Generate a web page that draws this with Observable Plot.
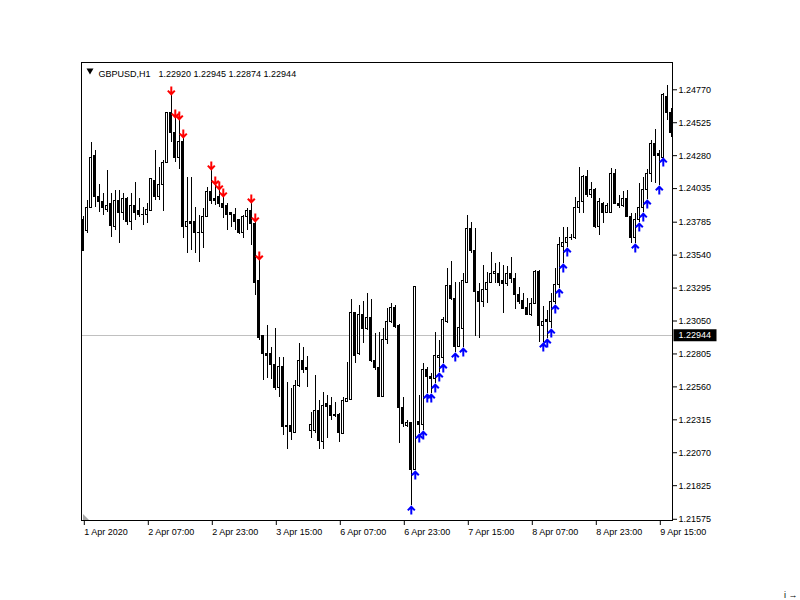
<!DOCTYPE html>
<html>
<head>
<meta charset="utf-8">
<script src="https://cdn.jsdelivr.net/npm/d3@7"></script>
<script src="https://cdn.jsdelivr.net/npm/@observablehq/plot@0.6"></script>
<style>
  html, body { margin: 0; padding: 0; background: #fff; }
  #chart { width: 800px; height: 600px; }
  #chart svg rect, #chart svg line { shape-rendering: crispEdges; }
</style>
</head>
<body>
<div id="chart"></div>
<script>
// ---- Data (GBPUSD H1, 1 Apr 15:00 .. 9 Apr 2020) ----
const opens = [
1.23798,1.23716,1.23887,1.24274,1.23976,1.23932,1.23879,1.23917,1.23753,1.23939,
1.23857,1.23954,1.23790,1.23902,1.23865,1.23842,1.23842,1.23872,1.24095,1.23969,
1.24065,1.24229,1.24594,1.24452,1.24266,1.24378,1.23746,1.23783,1.23783,1.23708,
1.23701,1.23820,1.24013,1.23954,1.23976,1.23924,1.23909,1.23850,1.23842,1.23798,
1.23701,1.23820,1.23865,1.23768,1.23351,1.22942,1.22808,1.22801,1.22726,1.22555,
1.22711,1.22272,1.22272,1.22220,1.22570,1.22749,1.22697,1.22235,1.22235,1.22384,
1.22153,1.22429,1.22421,1.22354,1.22354,1.22213,1.22451,1.22466,1.23106,1.22801,
1.23098,1.22994,1.23069,1.22749,1.22697,1.22488,1.22912,1.23039,1.23150,1.23016,
1.22406,1.22272,1.22295,1.21945,1.22302,1.22280,1.22682,1.22630,1.22622,1.22778,
1.22778,1.23039,1.23314,1.23210,1.22860,1.22994,1.23336,1.23738,1.23574,1.23269,
1.23195,1.23284,1.23336,1.23403,1.23403,1.23344,1.23329,1.23403,1.23366,1.23247,
1.23202,1.23150,1.23091,1.23180,1.23411,1.23016,1.23054,1.23039,1.23188,1.23321,
1.23604,1.23627,1.23664,1.23671,1.23894,1.23932,1.24118,1.23984,1.24028,1.23746,
1.23924,1.23857,1.23857,1.24147,1.23924,1.23909,1.23954,1.23827,1.23664,1.23798,
1.23887,1.24021,1.24147,1.24370,1.24296,1.24266,1.24713,1.24594];
const highs = [
1.23827,1.23946,1.24378,1.24318,1.24065,1.23998,1.24170,1.23998,1.24021,1.24021,
1.23998,1.23969,1.23998,1.24080,1.23961,1.23894,1.23924,1.24110,1.24318,1.24192,
1.24244,1.24594,1.24728,1.24557,1.24542,1.24408,1.24118,1.24118,1.23894,1.23835,
1.23887,1.24043,1.24170,1.24058,1.24021,1.23969,1.23924,1.23857,1.23887,1.23798,
1.23835,1.23887,1.23924,1.23783,1.23500,1.22942,1.23016,1.22853,1.22994,1.22778,
1.22778,1.22592,1.22548,1.22607,1.22882,1.22853,1.22786,1.22369,1.22644,1.22458,
1.22518,1.22496,1.22481,1.22444,1.22362,1.22481,1.22741,1.23210,1.23113,1.23165,
1.23195,1.23254,1.23210,1.22957,1.22964,1.22994,1.23143,1.23180,1.23165,1.23024,
1.22481,1.22310,1.22295,1.22510,1.22496,1.22734,1.22704,1.22659,1.22964,1.22905,
1.23076,1.23440,1.23493,1.23336,1.23336,1.23403,1.23835,1.23783,1.23738,1.23329,
1.23463,1.23411,1.23560,1.23478,1.23485,1.23463,1.23455,1.23522,1.23403,1.23299,
1.23254,1.23217,1.23217,1.23426,1.23426,1.23158,1.23128,1.23254,1.23440,1.23671,
1.23746,1.23746,1.23693,1.23969,1.24192,1.24132,1.24170,1.24080,1.24036,1.23961,
1.23932,1.23924,1.24185,1.24177,1.23984,1.24013,1.24021,1.23850,1.23850,1.24073,
1.24118,1.24177,1.24393,1.24475,1.24318,1.24743,1.24802,1.24631];
const lows = [
1.23567,1.23701,1.23887,1.23894,1.23857,1.23835,1.23857,1.23671,1.23723,1.23627,
1.23798,1.23760,1.23723,1.23798,1.23820,1.23760,1.23775,1.23865,1.23946,1.23946,
1.23865,1.24222,1.24378,1.24229,1.24177,1.23664,1.23552,1.23574,1.23552,1.23485,
1.23589,1.23820,1.23917,1.23909,1.23894,1.23813,1.23723,1.23746,1.23723,1.23693,
1.23664,1.23723,1.23612,1.23240,1.22905,1.22607,1.22622,1.22615,1.22533,1.22481,
1.22198,1.22094,1.22161,1.22213,1.22555,1.22659,1.22555,1.22176,1.22213,1.22094,
1.22094,1.22176,1.22310,1.22332,1.22146,1.22213,1.22444,1.22458,1.22734,1.22793,
1.22882,1.22979,1.22741,1.22682,1.22481,1.22481,1.22875,1.23031,1.22994,1.22138,
1.22258,1.22258,1.21677,1.21938,1.22213,1.22235,1.22511,1.22511,1.22585,1.22667,
1.22734,1.23031,1.23202,1.22816,1.22853,1.22853,1.23329,1.23552,1.22935,1.22920,
1.23150,1.23180,1.23329,1.23329,1.23307,1.23106,1.23307,1.23329,1.23135,1.23173,
1.23135,1.23091,1.23083,1.23180,1.22890,1.22890,1.22920,1.22994,1.23173,1.23292,
1.23478,1.23597,1.23649,1.23656,1.23850,1.23850,1.23969,1.23961,1.23738,1.23686,
1.23775,1.23850,1.23850,1.23924,1.23887,1.23894,1.23820,1.23627,1.23627,1.23783,
1.23857,1.23954,1.24080,1.24073,1.24058,1.24266,1.24542,1.24415];
const closes = [
1.23574,1.23894,1.24266,1.23969,1.23932,1.23887,1.23909,1.23760,1.23946,1.23857,
1.23954,1.23790,1.23902,1.23857,1.23835,1.23835,1.23879,1.24103,1.23969,1.24065,
1.24229,1.24594,1.24452,1.24266,1.24385,1.23746,1.23783,1.23775,1.23701,1.23701,
1.23827,1.24006,1.23946,1.23939,1.23924,1.23894,1.23842,1.23842,1.23790,1.23701,
1.23820,1.23865,1.23768,1.23336,1.22927,1.22801,1.22793,1.22726,1.22555,1.22711,
1.22258,1.22258,1.22228,1.22570,1.22749,1.22682,1.22689,1.22280,1.22384,1.22161,
1.22421,1.22414,1.22347,1.22347,1.22220,1.22458,1.22473,1.23113,1.22793,1.23098,
1.22994,1.23069,1.22749,1.22697,1.22488,1.22912,1.23039,1.23150,1.23009,1.22406,
1.22287,1.22295,1.21945,1.23302,1.22280,1.22682,1.22630,1.22622,1.22786,1.22793,
1.23054,1.23314,1.23210,1.22860,1.23001,1.23344,1.23738,1.23574,1.23269,1.23195,
1.23284,1.23336,1.23403,1.23411,1.23336,1.23329,1.23403,1.23366,1.23247,1.23195,
1.23143,1.23091,1.23180,1.23411,1.23016,1.23046,1.23039,1.23195,1.23321,1.23612,
1.23627,1.23664,1.23671,1.23894,1.23932,1.24118,1.23984,1.24028,1.23746,1.23932,
1.23857,1.23902,1.24147,1.23924,1.23902,1.23954,1.23820,1.23664,1.23798,1.23887,
1.24021,1.24147,1.24370,1.24281,1.24274,1.24728,1.24594,1.24445];

// signal arrows (bar indices)
const sellIdx = [22,23,24,25,32,33,34,35,42,43,44];
const buyIdx = [82,83,84,85,86,87,88,89,90,93,95,115,116,117,118,119,120,121,138,139,140,141,144,145];

// axes
const priceTicks = [1.21575,1.21825,1.22070,1.22315,1.22560,1.22805,1.23050,1.23295,1.23540,1.23785,1.24035,1.24280,1.24525,1.24770];
const timeTickIdx = [0,16,32,48,64,80,96,112,128,144];
const timeTickLabels = ["1 Apr 2020","2 Apr 07:00","2 Apr 23:00","3 Apr 15:00","6 Apr 07:00","6 Apr 23:00","7 Apr 15:00","8 Apr 07:00","8 Apr 23:00","9 Apr 15:00"];

// header (current bar)
const symbolName = "GBPUSD,H1";
const currentOHLC = [1.22920, 1.22945, 1.22874, 1.22944];
const currentPrice = currentOHLC[3];

// ---- Build ----
const bars = opens.map((o, i) => ({i, open: o, high: highs[i], low: lows[i], close: closes[i]}));
const upBars = bars.filter(d => d.close >= d.open);
const downBars = bars.filter(d => d.close < d.open);
const sells = sellIdx.map(i => bars[i]);
const buys = buyIdx.map(i => bars[i]);

const arrowDown = {draw(ctx) { ctx.moveTo(0, -1); ctx.lineTo(0, -9); ctx.moveTo(-3.5, -4.8); ctx.lineTo(0, -1.2); ctx.lineTo(3.5, -4.8); }};
const arrowUp   = {draw(ctx) { ctx.moveTo(0, 1); ctx.lineTo(0, 9); ctx.moveTo(-3.5, 4.8); ctx.lineTo(0, 1.2); ctx.lineTo(3.5, 4.8); }};
const cornerTri = {draw(ctx) { ctx.moveTo(0, 0); ctx.lineTo(0, -6); ctx.lineTo(6, 0); ctx.closePath(); }};
const labelBox  = {draw(ctx) { ctx.rect(1, -6, 43, 12); }};

const font = "'Liberation Sans', Arial, sans-serif";

const plot = Plot.plot({
  width: 800,
  height: 600,
  marginLeft: 81,
  marginRight: 128,
  marginTop: 62,
  marginBottom: 80,
  style: {fontFamily: font, fontSize: "9px", color: "black", background: "white", overflow: "visible"},
  x: {type: "linear", domain: [-0.45, 147.3], axis: null},
  y: {domain: [1.21566, 1.24973], axis: null},
  marks: [
    Plot.ruleY([currentPrice], {stroke: "#c0c0c0", strokeWidth: 1}),
    Plot.ruleX(bars, {x: "i", y1: "low", y2: "high", stroke: "black", strokeWidth: 1, clip: true}),
    Plot.rect(downBars, {x1: d => d.i - 0.25, x2: d => d.i + 0.25, y1: "open", y2: "close", fill: "black", stroke: "black", clip: true}),
    Plot.rect(upBars, {x1: d => d.i - 0.25, x2: d => d.i + 0.25, y1: "open", y2: "close", fill: "white", stroke: "black", clip: true}),
    Plot.dot(sells, {x: "i", y: "high", symbol: arrowDown, stroke: "#ff0000", strokeWidth: 2, fill: "none"}),
    Plot.dot(buys, {x: "i", y: "low", symbol: arrowUp, stroke: "#0000ff", strokeWidth: 2, fill: "none"}),
    Plot.dot([0], {frameAnchor: "bottom-left", dx: 1.5, dy: -0.5, symbol: cornerTri, fill: "#a8a8a8", stroke: "none"}),
    Plot.frame({stroke: "black"}),
    Plot.axisY(priceTicks, {anchor: "right", tickSize: 4, tickPadding: 2, tickFormat: d => d.toFixed(5), fontSize: 9}),
    Plot.axisX(timeTickIdx, {anchor: "bottom", tickSize: 5, tickPadding: 3, textAnchor: "start", dx: 1,
      tickFormat: d => timeTickLabels[timeTickIdx.indexOf(d)], fontSize: 9}),
    Plot.dot([currentPrice], {y: d => d, frameAnchor: "right", symbol: labelBox, fill: "black", stroke: "none"}),
    Plot.text([currentPrice], {y: d => d, frameAnchor: "right", dx: 6, text: d => d.toFixed(5), textAnchor: "start", fill: "white", fontSize: 9}),
    Plot.dot([0], {frameAnchor: "top-left", dx: 8.5, dy: 8, symbol: "triangle", rotate: 180, r: 2.6, fill: "black", stroke: "none"}),
    Plot.text([symbolName], {frameAnchor: "top-left", dx: 17, dy: 8.5, text: d => d, textAnchor: "start", fontSize: 9}),
    Plot.text([currentOHLC.map(v => v.toFixed(5)).join(" ")], {frameAnchor: "top-left", dx: 77, dy: 8.5, text: d => d, textAnchor: "start", fontSize: 9})
  ]
});

document.getElementById("chart").appendChild(plot);
</script>
</body>
</html>
